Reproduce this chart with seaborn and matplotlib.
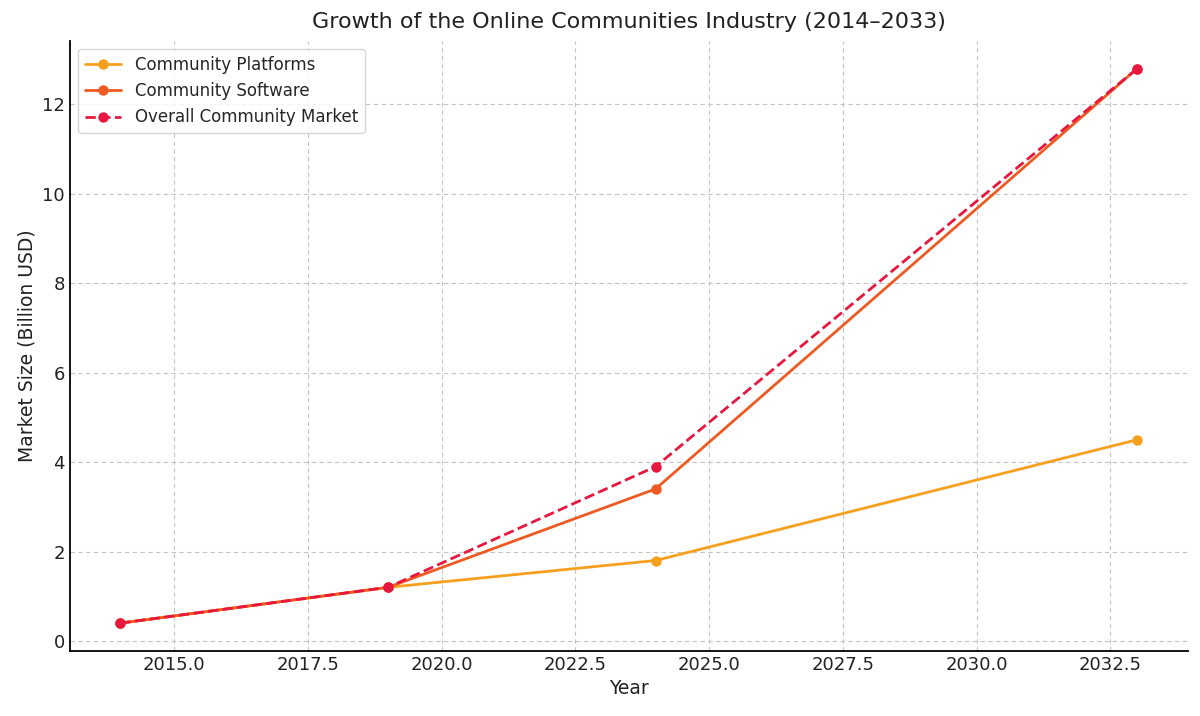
import seaborn as sns
import matplotlib.pyplot as plt
import pandas as pd

# Datos
years = [2014, 2019, 2024, 2033]
platforms = [0.4, 1.2, 1.8, 4.5]
software = [0.4, 1.2, 3.4, 12.8]
overall = [0.4, 1.2, 3.9, 12.8]

series_names = ["Community Platforms", "Community Software", "Overall Community Market"]
colors = ["#f7a01e", "#ef5a22", "#e8173f"]

df = pd.DataFrame({
    "Year": years * 3,
    "Value": platforms + software + overall,
    "Series": [series_names[0]] * 4 + [series_names[1]] * 4 + [series_names[2]] * 4,
})

sns.set_style("white")
plt.rcParams["font.family"] = ["DejaVu Sans"]

fig, ax = plt.subplots(figsize=(12, 7.16), dpi=100)

for name, color in zip(series_names, colors):
    sub = df[df["Series"] == name]
    ls = "--" if name == "Overall Community Market" else "-"
    sns.lineplot(data=sub, x="Year", y="Value", ax=ax, color=color, marker="o",
                 markersize=7.5, markeredgewidth=0, linewidth=2, linestyle=ls, label=name)

ax.grid(True, linestyle=(0, (4, 3)), color="#c4c4c4", linewidth=0.8)
ax.set_title("Growth of the Online Communities Industry (2014–2033)", fontsize=16,
             color="#222222", pad=9)
ax.set_xlabel("Year", fontsize=13.5, color="#222222")
ax.set_ylabel("Market Size (Billion USD)", fontsize=13.5, color="#222222")
ax.tick_params(direction="in", labelsize=13, colors="#222222", length=5, width=1)
ax.xaxis.set_major_formatter(plt.FormatStrFormatter("%.1f"))

for s in ["top", "right"]:
    ax.spines[s].set_visible(False)
for s in ["left", "bottom"]:
    ax.spines[s].set_color("black")
    ax.spines[s].set_linewidth(1.3)

ax.legend(loc="upper left", fontsize=12, frameon=True, handlelength=2.2)

plt.subplots_adjust(left=0.058, right=0.99, top=0.943, bottom=0.091)
plt.savefig("out.png", dpi=100)
